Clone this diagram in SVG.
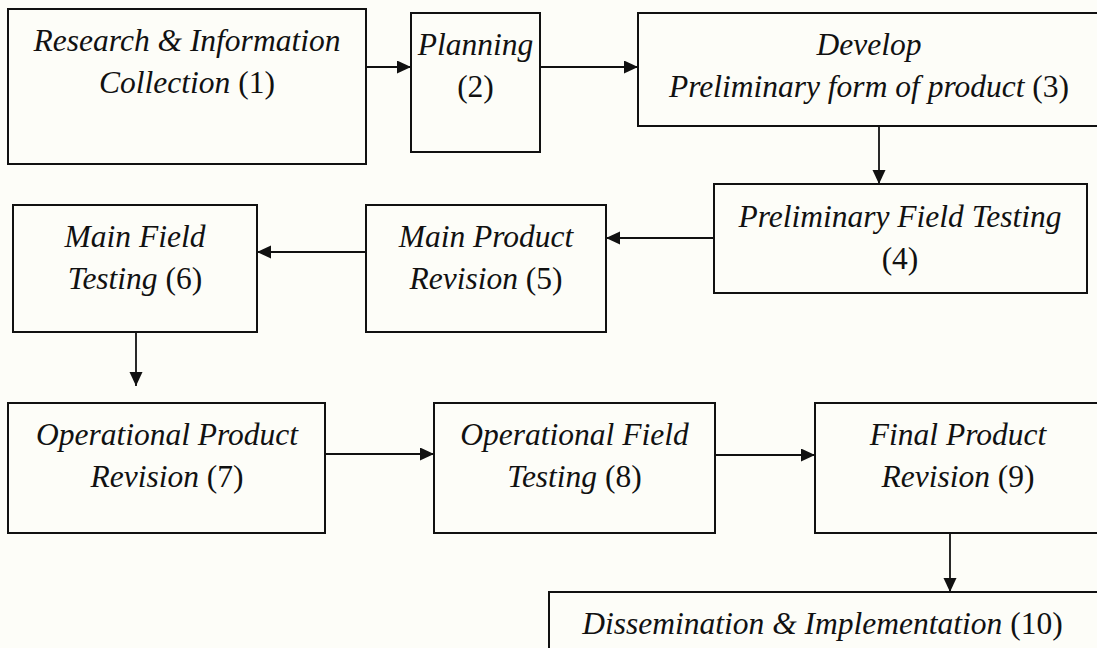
<svg xmlns="http://www.w3.org/2000/svg" width="1097" height="648" viewBox="0 0 1097 648">
<style>
.box{fill:none;stroke:#111;stroke-width:2}
.lbl{font-family:"Liberation Serif","Times New Roman",serif;font-size:31.5px;font-style:italic;fill:#111;text-anchor:middle}
.n{font-style:normal}
.con{stroke:#111;stroke-width:1.8;fill:none;marker-end:url(#ah)}
</style>
<defs>
<marker id="ah" markerUnits="userSpaceOnUse" markerWidth="15" markerHeight="14" refX="14" refY="6.5" orient="auto">
<path d="M0,0 L14,6.5 L0,13 z" fill="#111"/>
</marker>
</defs>
<rect width="1097" height="648" fill="#fdfdf8"/>
<g id="connectors">
<line class="con" x1="366" y1="67" x2="411" y2="67"/>
<line class="con" x1="540" y1="67" x2="638" y2="67"/>
<line class="con" x1="879" y1="126" x2="879" y2="184"/>
<line class="con" x1="714" y1="238" x2="606" y2="238"/>
<line class="con" x1="366" y1="252" x2="257" y2="252"/>
<line class="con" x1="136" y1="332" x2="136" y2="386"/>
<line class="con" x1="325" y1="454" x2="434" y2="454"/>
<line class="con" x1="715" y1="455" x2="815" y2="455"/>
<line class="con" x1="950" y1="533" x2="950" y2="592"/>
</g>
<g id="n1"><rect class="box" x="8" y="9" width="358" height="155"/>
<text class="lbl" x="187" y="51">Research &amp; Information</text>
<text class="lbl" x="187" y="93">Collection <tspan class="n">(1)</tspan></text></g>
<g id="n2"><rect class="box" x="411" y="13" width="129" height="139"/>
<text class="lbl" x="475.5" y="55">Planning</text>
<text class="lbl n" x="475.5" y="97">(2)</text></g>
<g id="n3"><rect class="box" x="638" y="13" width="470" height="113"/>
<text class="lbl" x="869" y="55">Develop</text>
<text class="lbl" x="869" y="97">Preliminary form of product <tspan class="n">(3)</tspan></text></g>
<g id="n4"><rect class="box" x="714" y="184" width="373" height="109"/>
<text class="lbl" x="900" y="227">Preliminary Field Testing</text>
<text class="lbl n" x="900" y="269">(4)</text></g>
<g id="n5"><rect class="box" x="366" y="205" width="240" height="127"/>
<text class="lbl" x="486" y="247">Main Product</text>
<text class="lbl" x="486" y="289">Revision <tspan class="n">(5)</tspan></text></g>
<g id="n6"><rect class="box" x="13" y="205" width="244" height="127"/>
<text class="lbl" x="135" y="247">Main Field</text>
<text class="lbl" x="135" y="289">Testing <tspan class="n">(6)</tspan></text></g>
<g id="n7"><rect class="box" x="8" y="403" width="317" height="130"/>
<text class="lbl" x="167" y="445">Operational Product</text>
<text class="lbl" x="167" y="487">Revision <tspan class="n">(7)</tspan></text></g>
<g id="n8"><rect class="box" x="434" y="403" width="281" height="130"/>
<text class="lbl" x="574.5" y="445">Operational Field</text>
<text class="lbl" x="574.5" y="487">Testing <tspan class="n">(8)</tspan></text></g>
<g id="n9"><rect class="box" x="815" y="403" width="290" height="130"/>
<text class="lbl" x="958" y="445">Final Product</text>
<text class="lbl" x="958" y="487">Revision <tspan class="n">(9)</tspan></text></g>
<g id="n10"><rect class="box" x="549" y="592" width="560" height="70"/>
<text class="lbl" x="822.5" y="634">Dissemination &amp; Implementation <tspan class="n">(10)</tspan></text></g>
</svg>
